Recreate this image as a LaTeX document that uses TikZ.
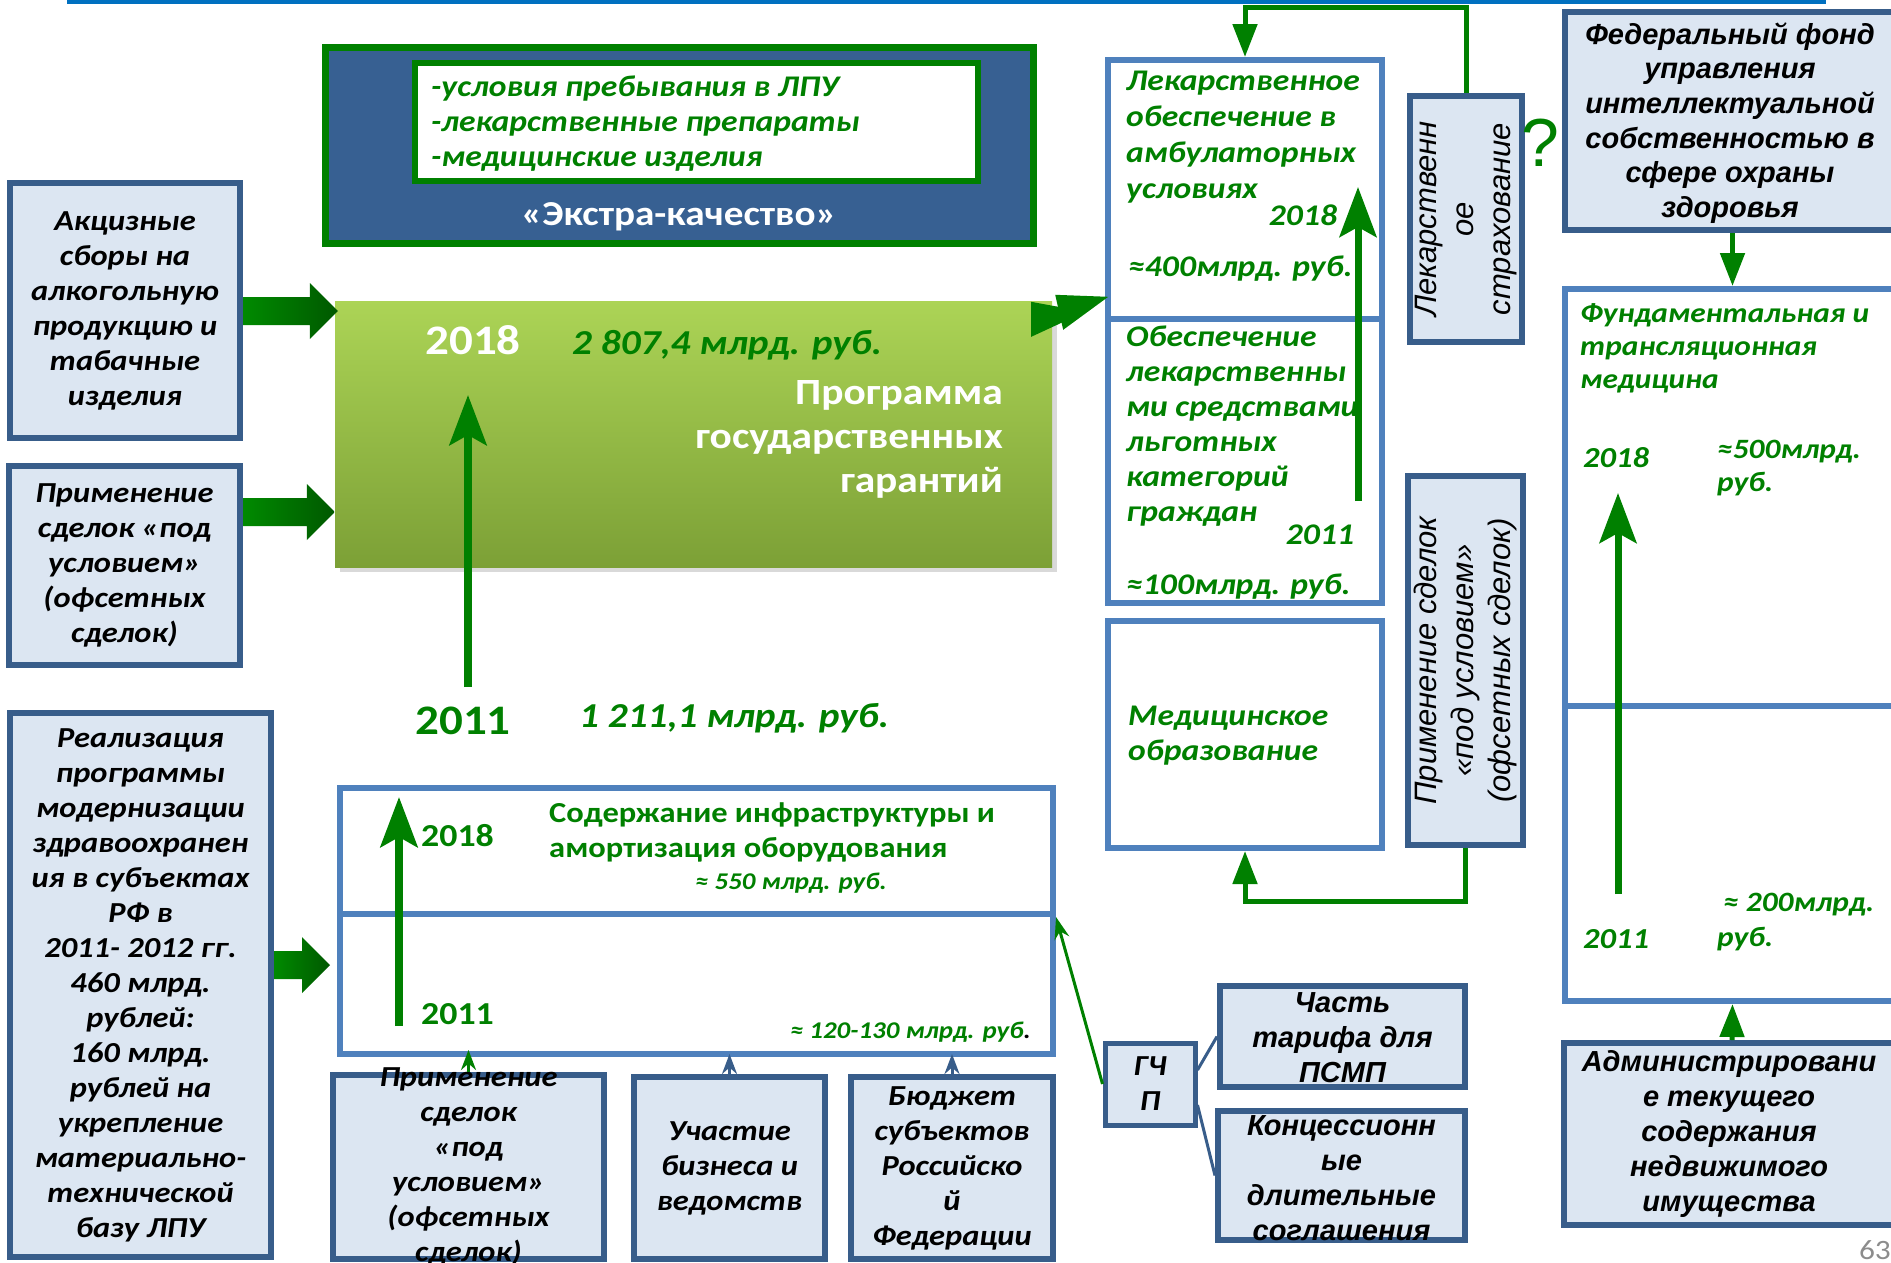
\documentclass[tikz,border=0pt]{standalone}
\usepackage{fontspec}
\setmainfont{Carlito}[FakeStretch=1.12]
\newfontfamily\arl{Liberation Sans}
\usetikzlibrary{arrows.meta,shadows,calc}
\definecolor{gr}{RGB}{0,128,0}
\definecolor{dkblue}{RGB}{56,93,138}
\definecolor{mdblue}{RGB}{79,129,189}
\definecolor{ltblue}{RGB}{220,230,242}
\definecolor{navy}{RGB}{55,96,146}
\definecolor{topline}{RGB}{0,112,192}
\definecolor{gtop}{RGB}{172,212,86}
\definecolor{gbot}{RGB}{124,160,54}
\definecolor{gA}{RGB}{0,138,0}
\definecolor{gB}{RGB}{0,88,0}
\tikzset{
  lbox/.style={draw=dkblue, fill=ltblue, line width=6pt, inner sep=0pt},
  wbox/.style={draw=mdblue, fill=white, line width=6pt, inner sep=0pt},
  bt/.style={inner sep=0pt, align=center, font=\fontsize{29}{35}\selectfont\bfseries\itshape},
  atxt/.style={inner sep=0pt, align=center, font=\arl\fontsize{29}{35}\selectfont\bfseries\itshape},
  gt/.style={inner sep=0pt, align=left, text=gr, font=\fontsize{30}{36}\selectfont\bfseries\itshape},
  fbarrow/.style={draw=gr, line width=5pt, -{Triangle[length=33pt,width=24pt]}},
  longarrow/.style={draw=gr, line width=8pt, -{Stealth[length=50pt,width=37pt,inset=10pt]}},
  smallarrow/.style={line width=3pt, -{Stealth[length=20pt,width=15pt]}},
  blockarrow/.style={shade, left color=gA, right color=gB},
}
\newcommand\barrowpath[2]{($(#1)+(0,-14)$) -- ($(#2)+(-28,-14)$) -- ($(#2)+(-28,-28)$) -- (#2) -- ($(#2)+(-28,28)$) -- ($(#2)+(-28,14)$) -- ($(#1)+(0,14)$) -- cycle}
\begin{document}
\begin{tikzpicture}[x=1pt,y=-1pt]
\useasboundingbox (0,0) rectangle (1891,1262);
\clip (0,0) rectangle (1891,1262);

% top line
\draw[topline, line width=4pt] (67,2) -- (1826,2);

% Extra-quality box
\node[draw=gr, fill=navy, line width=7pt, inner sep=0pt, minimum width=708pt, minimum height=196pt] (extra) at (679,145) {};
\node[draw=gr, fill=white, line width=6pt, inner sep=0pt, minimum width=563pt, minimum height=118pt] (extrain) at (696.5,122) {};
\node[gt, anchor=west, font=\fontsize{30}{35}\selectfont\bfseries\itshape] (extratxt) at (431,124) {-условия пребывания в ЛПУ\\-лекарственные препараты\\-медицинские изделия};
\node[inner sep=0pt, text=white, font=\fontsize{35}{42}\selectfont\bfseries] (extraname) at (679,217) {«Экстра-качество»};

% Program of state guarantees
\node[inner sep=0pt, minimum width=717pt, minimum height=266pt, top color=gtop, bottom color=gbot, drop shadow={shadow xshift=5pt, shadow yshift=-5pt, opacity=0.3}] (pgg) at (693.5,434) {};
\node[inner sep=0pt, text=white, font=\fontsize{42}{50}\selectfont\bfseries] (y2018) at (473,340) {2018};
\node[inner sep=0pt, text=gr, anchor=west, font=\fontsize{35}{42}\selectfont\bfseries\itshape] (s2807) at (572,345) {2 807,4 млрд. руб.};
\node[inner sep=0pt, text=white, align=right, anchor=east, font=\fontsize{37}{44}\selectfont\bfseries] (pggtxt) at (1003,439) {Программа\\государственных\\гарантий};
\node[inner sep=0pt, text=gr, font=\fontsize{42}{50}\selectfont\bfseries] (y2011) at (463,721) {2011};
\node[inner sep=0pt, text=gr, anchor=west, font=\fontsize{35}{42}\selectfont\bfseries\itshape] (s1211) at (579,718) {1 211,1 млрд. руб.};
\coordinate (a1s) at (468,687);
\coordinate (a1e) at (468,395);
\draw[longarrow] (a1s) -- (a1e);

% left boxes
\node[lbox, minimum width=230pt, minimum height=255pt] (akc) at (125,310.5) {};
\node[bt] (akcT) at (akc.center) {Акцизные\\сборы на\\алкогольную\\продукцию и\\табачные\\изделия};
\node[lbox, minimum width=231pt, minimum height=199pt] (prim1) at (124.5,565.5) {};
\node[bt] (prim1T) at (prim1.center) {Применение\\сделок «под\\условием»\\(офсетных\\сделок)};
\node[lbox, minimum width=261pt, minimum height=544pt] (real) at (140.5,985) {};
\node[bt] (realT) at (real.center) {Реализация\\программы\\модернизации\\здравоохранен\\ия в субъектах\\РФ в\\2011- 2012 гг.\\460 млрд.\\рублей:\\160 млрд.\\рублей на\\укрепление\\материально-\\технической\\базу ЛПУ};

% block arrows
\coordinate (b1s) at ($(akc.east)+(0,0.5)$);
\coordinate (b1e) at ($(b1s -| pgg.west)+(3,0)$);
\path[blockarrow] \barrowpath{b1s}{b1e};
\coordinate (b2s) at ($(prim1.east)+(0,-53.5)$);
\coordinate (b2e) at (b2s -| pgg.west);
\path[blockarrow] \barrowpath{b2s}{b2e};

% infrastructure
\node[wbox, minimum width=713pt, minimum height=126pt] (infT) at (696.5,851) {};
\node[wbox, minimum width=713pt, minimum height=140pt] (infB) at (696.5,984) {};
\node[inner sep=0pt, text=gr, anchor=west, font=\fontsize{32}{38}\selectfont\bfseries] (i2018) at (421,836) {2018};
\node[inner sep=0pt, text=gr, align=left, anchor=west, font=\fontsize{29}{35}\selectfont\bfseries] (infTT) at (549,832.5) {Содержание инфраструктуры и\\амортизация оборудования};
\node[inner sep=0pt, text=gr, font=\fontsize{24}{29}\selectfont\bfseries\itshape] (i550) at (791,883) {≈ 550 млрд. руб.};
\node[inner sep=0pt, text=gr, anchor=west, font=\fontsize{32}{38}\selectfont\bfseries] (i2011) at (421,1014) {2011};
\node[inner sep=0pt, text=gr, anchor=east, font=\fontsize{24}{29}\selectfont\bfseries\itshape] (i120) at (1031,1032) {≈ 120-130 млрд. руб\textcolor{black}{.}};
\coordinate (ia1) at (399,1026);
\coordinate (ia2) at (399,797);
\draw[longarrow] (ia1) -- (ia2);
\coordinate (b3s) at ($(real.east)+(0,-20)$);
\coordinate (b3e) at ($(b3s -| infB.west)+(-7,0)$);
\path[blockarrow] \barrowpath{b3s}{b3e};

% bottom boxes
\node[lbox, minimum width=271pt, minimum height=184pt] (prim2) at (468.5,1167) {};
\node[bt] (prim2T) at (prim2.center) {Применение\\сделок\\«под\\условием»\\(офсетных\\сделок)};
\node[lbox, minimum width=191pt, minimum height=182pt] (uch) at (729.5,1168) {};
\node[bt] (uchT) at (uch.center) {Участие\\бизнеса и\\ведомств};
\node[lbox, minimum width=202pt, minimum height=182pt] (bud) at (952,1168) {};
\node[bt] (budT) at (bud.center) {Бюджет\\субъектов\\Российско\\й\\Федерации};
\draw[smallarrow, gr] (prim2.north) -- ($(prim2.north |- infB.south)+(0,-7)$);
\draw[smallarrow, dkblue] (uch.north) -- ($(uch.north |- infB.south)+(0,-3)$);
\draw[smallarrow, dkblue] (bud.north) -- ($(bud.north |- infB.south)+(0,-3)$);

% GChP
\node[lbox, line width=5pt, minimum width=90pt, minimum height=82pt] (gchp) at (1150,1084) {};
\node[bt] (gchpT) at (gchp.center) {ГЧ\\П};
\node[lbox, minimum width=245pt, minimum height=101pt] (chast) at (1342.5,1036.5) {};
\node[atxt] (chastT) at ($(chast.center)+(0,1.5)$) {Часть\\тарифа для\\ПСМП};
\node[lbox, minimum width=247pt, minimum height=129pt] (konc) at (1341.5,1175.5) {};
\node[atxt] (koncT) at ($(konc.center)+(0,2.5)$) {Концессионн\\ые\\длительные\\соглашения};
\draw[gr, line width=3pt, -{Stealth[length=22pt,width=15pt]}] (gchp.west) -- ($(infB.north east)+(0,6)$);
\draw[dkblue, line width=3pt] ($(gchp.east)+(0,-14)$) -- (chast.west);
\draw[dkblue, line width=3pt] ($(gchp.east)+(0,21)$) -- (konc.west);

% right column
\node[wbox, minimum width=274pt, minimum height=259pt] (lek) at (1245,189.5) {};
\node[wbox, minimum width=274pt, minimum height=284pt] (obes) at (1245,461) {};
\node[wbox, minimum width=274pt, minimum height=227pt] (med) at (1245,734.5) {};
\node[gt, anchor=west] (lekT) at (1126,137.5) {Лекарственное\\обеспечение в\\амбулаторных\\условиях};
\node[gt] (l2018) at (1303,215) {2018};
\node[gt, anchor=west] (l400) at (1128,269) {≈400млрд. руб.};
\node[gt, anchor=west, font=\fontsize{30}{35}\selectfont\bfseries\itshape] (obesT) at (1126,426.5) {Обеспечение\\лекарственны\\ми средствами\\льготных\\категорий\\граждан};
\node[gt] (o2011) at (1320,535) {2011};
\node[gt, anchor=west] (o100) at (1126,587) {≈100млрд. руб.};
\node[gt, anchor=west, font=\fontsize{30}{35}\selectfont\bfseries\itshape] (medT) at (1128,735.5) {Медицинское\\образование};
\coordinate (la1) at (1358,501);
\coordinate (la2) at (1358,187);
\draw[longarrow, line width=7pt] (la1) -- (la2);

% arrow from program box into drug provision box
\coordinate (c1) at (pgg.north east);
\fill[gr] ($(c1)+(-21,1)$) -- ($(c1)+(33,11)$) -- ($(c1)+(-21,36)$) -- cycle;
\fill[gr] ($(c1)+(3,-6)$) -- ($(c1)+(56,-4)$) -- ($(c1)+(11,29)$) -- cycle;

% drug insurance
\node[lbox, minimum width=112pt, minimum height=246pt] (lstr) at (1466,219) {};
\node[inner sep=0pt, align=center, rotate=90, font=\arl\fontsize{31}{37}\selectfont\itshape] (lstrT) at (lstr.center) {Лекарственн\\ое\\страхование};
\node[inner sep=0pt, text=gr, font=\arl\fontsize{68}{80}\selectfont] (q) at (1540,143) {?};
\draw[fbarrow] (lstr.north) -- ++(0,-86) -| (lek.north);

\node[lbox, minimum width=115pt, minimum height=369pt] (prim3) at (1465.5,660.5) {};
\node[inner sep=0pt, align=center, rotate=90, font=\arl\fontsize{31}{37}\selectfont\itshape] (prim3T) at (prim3.center) {Применение сделок\\«под условием»\\(офсетных сделок)};
\draw[fbarrow] (prim3.south) -- ++(0,53) -| (med.south);

% far right column
\node[lbox, minimum width=335pt, minimum height=218pt] (fed) at (1732.5,121) {};
\node[atxt, font=\arl\fontsize{29}{34.6}\selectfont\bfseries\itshape] (fedT) at (1730,123) {Федеральный фонд\\управления\\интеллектуальной\\собственностью в\\сфере охраны\\здоровья};
\node[wbox, minimum width=335pt, minimum height=417pt] (fundT) at (1732.5,497.5) {};
\node[wbox, minimum width=335pt, minimum height=295pt] (fundB) at (1732.5,853.5) {};
\node[gt, anchor=west, font=\fontsize{28}{33}\selectfont\bfseries\itshape] (fundTT) at (1580,348) {Фундаментальная и\\трансляционная\\медицина};
\node[gt, anchor=west, font=\fontsize{29}{33}\selectfont\bfseries\itshape] (f2018) at (1583,458) {2018};
\node[gt, anchor=west, font=\fontsize{28}{33}\selectfont\bfseries\itshape] (f500) at (1717,468.5) {≈500млрд.\\руб.};
\node[gt, anchor=west, font=\fontsize{28}{33}\selectfont\bfseries\itshape] (f200) at (1723,905) {≈ 200млрд.};
\node[gt, anchor=west, font=\fontsize{28}{33}\selectfont\bfseries\itshape] (f200r) at (1717,939) {руб.};
\node[gt, anchor=west, font=\fontsize{29}{33}\selectfont\bfseries\itshape] (f2011) at (1583,939) {2011};
\coordinate (fa1) at (1618,894);
\coordinate (fa2) at (1618,493);
\draw[longarrow, line width=7pt] (fa1) -- (fa2);
\node[lbox, minimum width=336pt, minimum height=182pt] (adm) at (1732,1134) {};
\node[atxt] (admT) at (1729,1134) {Администрировани\\е текущего\\содержания\\недвижимого\\имущества};
\draw[fbarrow] (fed.south) -- (fundT.north);
\draw[fbarrow] (adm.north) -- (fundB.south);

% page number
\node[inner sep=0pt, anchor=east, text=black!45, font=\fontsize{28}{34}\selectfont] (pnum) at (1891,1250) {63};
\end{tikzpicture}
\end{document}
